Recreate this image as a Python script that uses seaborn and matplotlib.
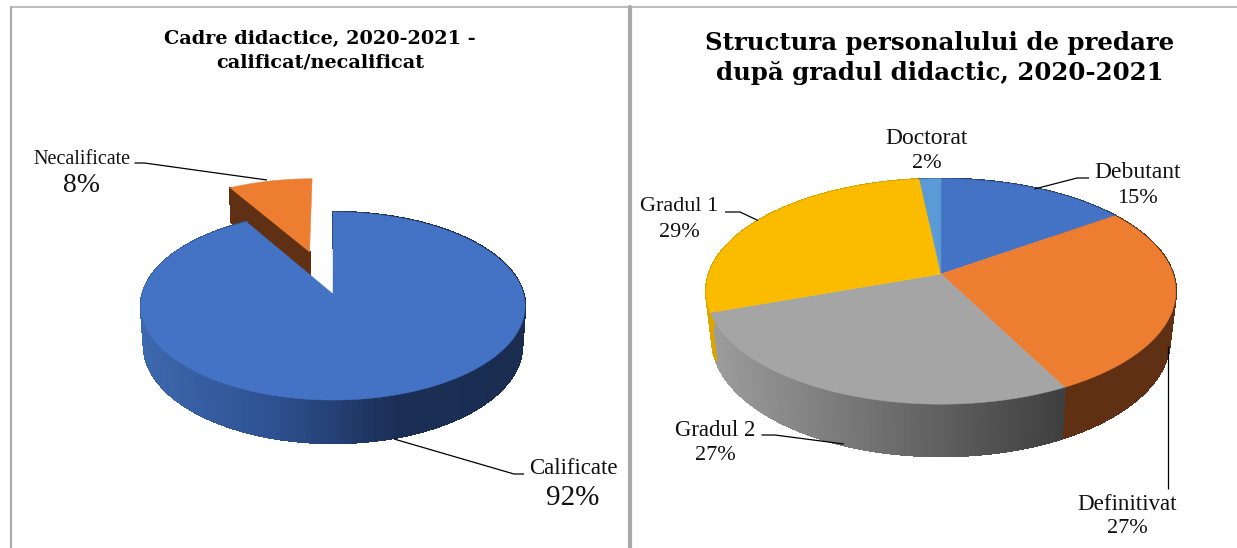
import numpy as np
import matplotlib
matplotlib.use("Agg")
import matplotlib.pyplot as plt
from matplotlib.collections import PolyCollection
import seaborn as sns

# left chart
left_title = "Cadre didactice, 2020-2021 -\ncalificat/necalificat"
left_names = ["Calificate", "Necalificate"]
left_values = [91.6, 8.4]
left_shown = ["92%", "8%"]

# right chart
right_title = "Structura personalului de predare\ndupă gradul didactic, 2020-2021"
right_names = ["Debutant", "Definitivat", "Gradul 2", "Gradul 1", "Doctorat"]
right_values = [15.2, 27.2, 27.2, 28.7, 1.7]
right_shown = ["15%", "27%", "27%", "29%", "2%"]

sns.set_theme(style="white")
plt.rcParams["font.family"] = ["Liberation Serif", "DejaVu Serif"]

left_colors = sns.color_palette(["#4472C4", "#ED7D31"])
left_walls = [["#3d67ae", "#2e5292", "#1b2e55", "#1a2d50"], ["#5f3013", "#5f3013"]]
right_colors = sns.color_palette(["#4472C4", "#ED7D31", "#A5A5A5", "#FBBC00", "#5B9BD5"])
right_walls = [["#27437a", "#27437a"], ["#5f3013", "#5f3013"], ["#9c9c9c", "#3f3f3f"],
               ["#dba500", "#dba500"], ["#3a6a96", "#3a6a96"]]


def project(u, v, g):
    # unit disc -> picture, the back of the pie is further away from the camera
    d = 1 + g["p"] * v
    return g["b"] * u / d, g["a"] * v / d, d


def top_xy(u, v, g):
    x, y, d = project(u, v, g)
    return np.column_stack([g["cx"] + x, g["cy"] - y])


def bottom_xy(u, v, g):
    x, y, d = project(u, v, g)
    return np.column_stack([g["cx"] + g["s"] * x, g["cy"] - g["s"] * y + g["h"] / d])


def wall(ax, top, bottom, palette):
    cmap = sns.blend_palette(palette, as_cmap=True)
    mid = (top[:-1, 0] + top[1:, 0]) / 2
    span = max(mid.max() - mid.min(), 1)
    quads = [[top[i], top[i + 1], bottom[i + 1], bottom[i]] for i in range(len(top) - 1)]
    cols = cmap((mid - mid.min()) / span)
    ax.add_collection(PolyCollection(quads, facecolors=cols, edgecolors=cols,
                                     linewidths=1.0, antialiaseds=False))


def draw_pie(ax, values, colors, walls, g, explode=None):
    explode = explode or {}
    edges = np.cumsum([0] + list(values)) / sum(values) * 2 * np.pi
    # exploded slices go first, the rest of the pie covers them
    order = sorted(range(len(values)), key=lambda i: i not in explode)
    for i in order:
        t = np.linspace(edges[i], edges[i + 1], 240)
        off = explode.get(i, 0)
        mid = (edges[i] + edges[i + 1]) / 2
        u0, v0 = off * np.sin(mid), off * np.cos(mid)
        u, v = u0 + np.sin(t), v0 + np.cos(t)
        if off:
            # slice sits at the back: only the cut face on the left shows
            r = np.linspace(0, 1, 40)
            ru, rv = u0 + r * np.sin(edges[i]), v0 + r * np.cos(edges[i])
            wall(ax, top_xy(ru, rv, g), bottom_xy(ru, rv, g), walls[i])
        else:
            wall(ax, top_xy(u, v, g), bottom_xy(u, v, g), walls[i])
    for i in order:
        t = np.linspace(edges[i], edges[i + 1], 240)
        off = explode.get(i, 0)
        mid = (edges[i] + edges[i + 1]) / 2
        u0, v0 = off * np.sin(mid), off * np.cos(mid)
        u = np.r_[u0, u0 + np.sin(t)]
        v = np.r_[v0, v0 + np.cos(t)]
        xy = top_xy(u, v, g)
        ax.fill(xy[:, 0], xy[:, 1], color=colors[i], lw=0.3, zorder=3)


def label(ax, x, y1, y2, name, pct, size, pct_size):
    ax.text(x, y1 + 2, name, ha="center", va="center", fontsize=size, color="#111111", zorder=5)
    ax.text(x, y2 + 1.5, pct, ha="center", va="center", fontsize=pct_size, color="#111111", zorder=5)


def leader(ax, xs, ys):
    ax.plot(xs, ys, color="black", lw=0.9, zorder=4, solid_capstyle="butt")


fig, ax = plt.subplots(figsize=(12.37, 5.48), dpi=100)
fig.subplots_adjust(0, 0, 1, 1)

g_left = dict(cx=333, cy=294, a=92.5, b=190.5, p=0.128, s=0.985, h=38.9)
g_right = dict(cx=941, cy=274, a=110, b=232, p=0.155, s=0.975, h=46.7)

draw_pie(ax, left_values, left_colors, left_walls, g_left, explode={1: 0.5})
draw_pie(ax, right_values, right_colors, right_walls, g_right)

# panel frames
ax.plot([10.5, 10.5], [6.5, 548], color="#a9a9a9", lw=1.5)
ax.plot([630, 630], [6.5, 548], color="#a9a9a9", lw=3)
ax.plot([10.5, 1237], [6.5, 6.5], color="#a9a9a9", lw=1.1)

# titles
ax.text(320, 50.5, left_title, ha="center", va="center", fontsize=13.9, fontweight="bold",
        family="DejaVu Serif", linespacing=1.36, color="black")
ax.text(940, 58, right_title, ha="center", va="center", fontsize=17.6, fontweight="bold",
        family="DejaVu Serif", linespacing=1.31, color="black")

# labels and leader lines
label(ax, 82, 158, 184.5, left_names[1], left_shown[1], 14.5, 20)
label(ax, 573, 467, 496.5, left_names[0], left_shown[0], 16.5, 21)
leader(ax, [134.5, 144.5, 267], [163, 163, 180])
leader(ax, [524, 514, 394], [474, 474, 439])

label(ax, 1137.5, 171, 197, right_names[0], right_shown[0], 17, 16)
label(ax, 1127, 502, 527, right_names[1], right_shown[1], 16.6, 16)
label(ax, 715.5, 429, 454, right_names[2], right_shown[2], 16.4, 16)
label(ax, 679, 204.5, 231, right_names[3], right_shown[3], 16, 16)
label(ax, 927, 137, 162, right_names[4], right_shown[4], 17, 16)
leader(ax, [1089, 1077, 1034.5], [178, 178, 189])
leader(ax, [1168, 1168], [489, 346])
leader(ax, [761.5, 775, 844], [435, 435, 444])
leader(ax, [725, 740, 758], [212, 212, 220.5])

ax.set_xlim(0, 1237)
ax.set_ylim(548, 0)
ax.axis("off")
fig.savefig("out.png", dpi=100)
